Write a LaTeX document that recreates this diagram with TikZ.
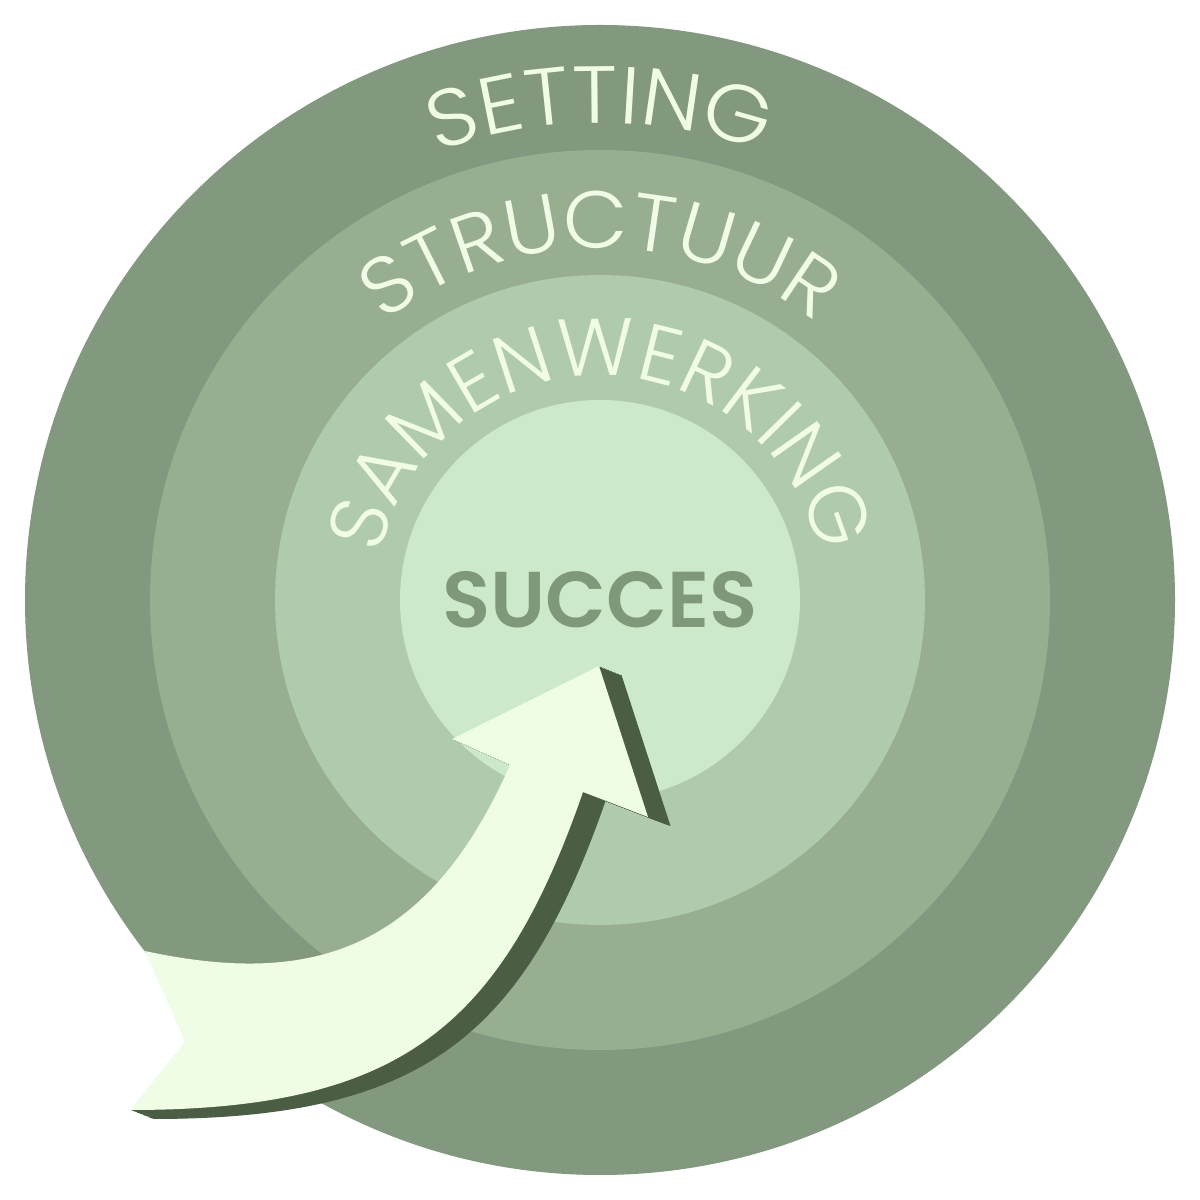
\documentclass[tikz,border=0pt]{standalone}
\usepackage{fontspec}
\newfontfamily\arcfontA{Poppins Light}[FakeStretch=1.08]
\newfontfamily\arcfontB{Poppins Light}[FakeStretch=1.04]
\newfontfamily\arcfontC{Poppins Light}
\newfontfamily\succfont{Poppins SemiBold}
\usetikzlibrary{decorations.text}
\definecolor{ringA}{HTML}{83997F}
\definecolor{ringB}{HTML}{97AE91}
\definecolor{ringC}{HTML}{B0CAAD}
\definecolor{ringD}{HTML}{CDE9CB}
\definecolor{txtlight}{HTML}{F0FCE6}
\definecolor{arrowfill}{HTML}{EFFDE6}
\definecolor{arrowshadow}{HTML}{4B5D45}
\definecolor{succ}{HTML}{7F987A}
\newcommand\arrowshape{(599,534) -- (648,383) -- (583,408)
  .. controls (501,172) and (400,90) .. (130,90)
  -- (185,158) -- (145,249)
  .. controls (316,212) and (429,252) .. (510,435)
  -- (452,461) -- cycle}
\tikzset{
  arclabel/.style={decorate, decoration={text along path, text align=center, text color=txtlight}},
}
\begin{document}
\begin{tikzpicture}[x=0.01cm,y=0.01cm]
\useasboundingbox (0,0) rectangle (1200,1200);
\fill[white] (0,0) rectangle (1200,1200);
\coordinate (c) at (600,600);
\fill[ringA] (c) circle[radius=575];
\fill[ringB] (c) circle[radius=450];
\fill[ringC] (c) circle[radius=325];
\fill[ringD] (c) circle[radius=200];
\path[arclabel, decoration={text={|\arcfontA\fontsize{23}{23}\selectfont|SETTING}}]
  (c) ++(160:477) arc[start angle=160, end angle=20, radius=477];
\path[arclabel, decoration={text={|\arcfontB\fontsize{23}{23}\selectfont|STRUCTUUR}}]
  (c) ++(175:352) arc[start angle=175, end angle=5, radius=352];
\path[arclabel, decoration={text={|\arcfontC\fontsize{23}{23}\selectfont|SAMENWERKING}}]
  (c) ++(240:224) arc[start angle=240, end angle=-60, radius=224];
\node[inner sep=0, font=\succfont\fontsize{22.5}{22.5}\selectfont, text=succ] (succes) at (600,600.5) {SUCCES};
\foreach \t in {1,...,16} {
  \fill[arrowshadow, shift={({22.5*\t/16},{-9*\t/16})}] \arrowshape;
}
\fill[arrowfill] \arrowshape;
\end{tikzpicture}
\end{document}
